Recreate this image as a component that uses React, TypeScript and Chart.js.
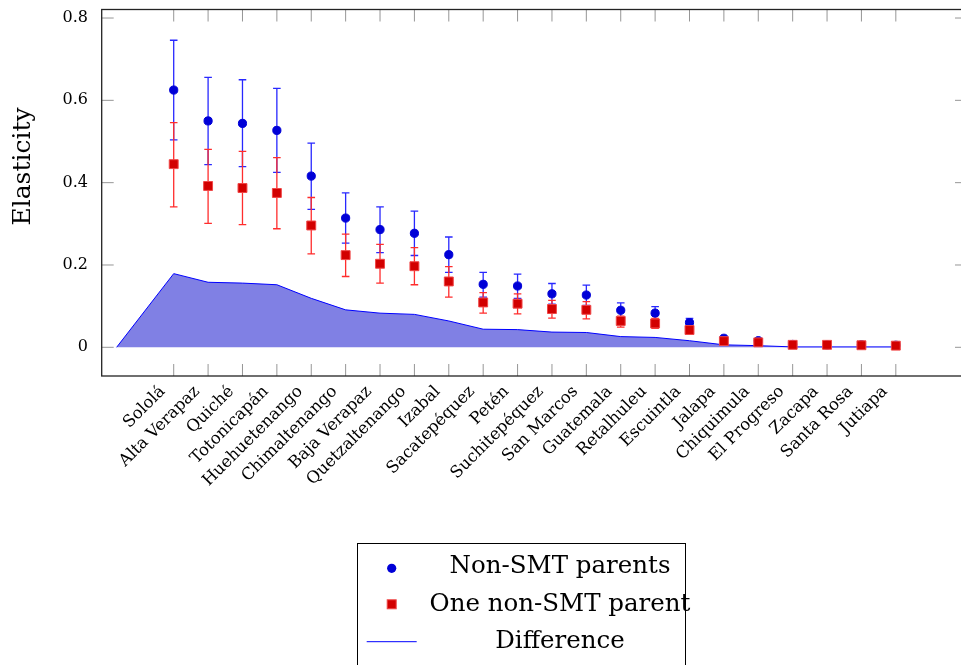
import React, { useEffect, useRef } from 'react';
import { Chart, registerables } from 'chart.js';

Chart.register(...registerables);

// ---------- data ----------
const categories = [
  'Sololá', 'Alta Verapaz', 'Quiché', 'Totonicapán', 'Huehuetenango', 'Chimaltenango',
  'Baja Verapaz', 'Quetzaltenango', 'Izabal', 'Sacatepéquez', 'Petén', 'Suchitepéquez',
  'San Marcos', 'Guatemala', 'Retalhuleu', 'Escuintla', 'Jalapa', 'Chiquimula',
  'El Progreso', 'Zacapa', 'Santa Rosa', 'Jutiapa',
];

const nonSmt = [0.625, 0.550, 0.544, 0.527, 0.416, 0.314, 0.286, 0.277, 0.225, 0.153, 0.149, 0.130, 0.127, 0.090, 0.083, 0.060, 0.022, 0.016, 0.007, 0.006, 0.006, 0.005];
const nonSmtHi = [0.746, 0.656, 0.650, 0.629, 0.496, 0.375, 0.341, 0.331, 0.268, 0.182, 0.178, 0.155, 0.151, 0.108, 0.099, 0.070, 0.026, 0.019, 0.009, 0.008, 0.008, 0.007];
const nonSmtLo = [0.504, 0.444, 0.439, 0.425, 0.335, 0.253, 0.230, 0.223, 0.182, 0.122, 0.119, 0.105, 0.102, 0.073, 0.067, 0.050, 0.018, 0.013, 0.005, 0.004, 0.004, 0.003];

const oneNonSmt = [0.445, 0.392, 0.387, 0.375, 0.296, 0.224, 0.203, 0.197, 0.160, 0.109, 0.106, 0.093, 0.091, 0.064, 0.058, 0.042, 0.015, 0.012, 0.006, 0.006, 0.005, 0.004];
const oneNonSmtHi = [0.546, 0.481, 0.476, 0.461, 0.364, 0.275, 0.250, 0.242, 0.196, 0.133, 0.130, 0.114, 0.111, 0.076, 0.070, 0.050, 0.019, 0.015, 0.008, 0.008, 0.007, 0.006];
const oneNonSmtLo = [0.341, 0.301, 0.298, 0.288, 0.227, 0.172, 0.156, 0.152, 0.122, 0.083, 0.081, 0.071, 0.069, 0.049, 0.046, 0.034, 0.011, 0.009, 0.004, 0.004, 0.003, 0.002];

const difference = [0.179, 0.158, 0.156, 0.152, 0.119, 0.091, 0.083, 0.080, 0.064, 0.044, 0.043, 0.037, 0.036, 0.026, 0.024, 0.016, 0.006, 0.004, 0.001, 0.001, 0.001, 0.001];
const differenceStart = { x: -1.66, y: 0 };

const yTickValues = [0, 0.2, 0.4, 0.6, 0.8];
const legendLabels = ['Non-SMT parents', 'One non-SMT parent', 'Difference'];
const yTitle = 'Elasticity';

// ---------- styles ----------
const FONT = '"DejaVu Serif", serif';
const BLUE_MARK = 'rgb(0,0,215)';
const BLUE_BAR = 'rgb(40,40,255)';
const RED_MARK = 'rgb(210,0,0)';
const RED_BORDER = 'rgb(240,70,70)';
const RED_BAR = 'rgb(255,45,45)';
const AREA_FILL = 'rgb(128,128,228)';
const AREA_LINE = 'rgb(0,0,255)';

const X_MIN = -2.094;
const X_MAX = 23.07;
const Y_MIN = -0.0697;
const Y_MAX = 0.8207;

function drawErrorBars(chart: any, lo: number[], hi: number[], color: string) {
  const { ctx, scales } = chart;
  const xs = scales.x;
  const ys = scales.y;
  ctx.save();
  ctx.strokeStyle = color;
  ctx.lineWidth = 1.3;
  const cap = 3.8;
  for (let i = 0; i < lo.length; i++) {
    const px = xs.getPixelForValue(i);
    const yl = ys.getPixelForValue(lo[i]);
    const yh = ys.getPixelForValue(hi[i]);
    ctx.beginPath();
    ctx.moveTo(px, yl);
    ctx.lineTo(px, yh);
    ctx.moveTo(px - cap, yl);
    ctx.lineTo(px + cap, yl);
    ctx.moveTo(px - cap, yh);
    ctx.lineTo(px + cap, yh);
    ctx.stroke();
  }
  ctx.restore();
}

const errorBarPlugin = {
  id: 'errorBars',
  beforeDatasetDraw(chart: any, args: any) {
    if (args.index === 0) drawErrorBars(chart, nonSmtLo, nonSmtHi, BLUE_BAR);
    if (args.index === 1) drawErrorBars(chart, oneNonSmtLo, oneNonSmtHi, RED_BAR);
  },
};

const framePlugin = {
  id: 'frame',
  afterDatasetsDraw(chart: any) {
    const { ctx, chartArea, scales } = chart;
    const { left, right, top, bottom } = chartArea;
    const tl = 12;
    ctx.save();
    ctx.strokeStyle = 'rgb(150,150,150)';
    ctx.lineWidth = 1;
    ctx.beginPath();
    scales.x.ticks.forEach((t: any) => {
      const px = scales.x.getPixelForValue(t.value);
      ctx.moveTo(px, bottom);
      ctx.lineTo(px, bottom - tl);
      ctx.moveTo(px, top);
      ctx.lineTo(px, top + tl);
    });
    scales.y.ticks.forEach((t: any) => {
      const py = scales.y.getPixelForValue(t.value);
      ctx.moveTo(left, py);
      ctx.lineTo(left + tl, py);
      ctx.moveTo(right, py);
      ctx.lineTo(right - tl, py);
    });
    ctx.stroke();
    ctx.strokeStyle = 'rgb(35,35,35)';
    ctx.lineWidth = 1.3;
    ctx.strokeRect(left, top, right - left, bottom - top);
    ctx.restore();
  },
};

const titlePlugin = {
  id: 'yTitle',
  afterDraw(chart: any) {
    const { ctx } = chart;
    ctx.save();
    ctx.translate(30, 166.5);
    ctx.rotate(-Math.PI / 2);
    ctx.font = `25px ${FONT}`;
    ctx.fillStyle = '#000';
    ctx.textAlign = 'center';
    ctx.textBaseline = 'alphabetic';
    ctx.fillText(yTitle, 0, 0);
    ctx.restore();
  },
};

const legendPlugin = {
  id: 'customLegend',
  afterDraw(chart: any) {
    const { ctx } = chart;
    ctx.save();
    ctx.strokeStyle = '#000';
    ctx.lineWidth = 1;
    ctx.strokeRect(357.5, 543.5, 328, 200);
    const textX = 560;
    const markX = 391.7;
    const baselines = [573.3, 610.5, 648];
    ctx.font = `24.5px ${FONT}`;
    ctx.fillStyle = '#000';
    ctx.textAlign = 'center';
    ctx.textBaseline = 'alphabetic';
    legendLabels.forEach((l, i) => ctx.fillText(l, textX, baselines[i]));
    ctx.fillStyle = BLUE_MARK;
    ctx.beginPath();
    ctx.arc(markX, 568.3, 4.6, 0, Math.PI * 2);
    ctx.fill();
    ctx.fillStyle = RED_MARK;
    ctx.fillRect(markX - 4.5, 604.3 - 4.5, 9, 9);
    ctx.strokeStyle = RED_BORDER;
    ctx.strokeRect(markX - 4.5, 604.3 - 4.5, 9, 9);
    ctx.strokeStyle = AREA_LINE;
    ctx.lineWidth = 1;
    ctx.beginPath();
    ctx.moveTo(366.7, 641.7);
    ctx.lineTo(416.7, 641.7);
    ctx.stroke();
    ctx.restore();
  },
};

export default function App() {
  const ref = useRef<HTMLCanvasElement>(null);
  useEffect(() => {
    const canvas = ref.current;
    if (!canvas) return;
    const chart = new Chart(canvas, {
      type: 'line',
      data: {
        datasets: [
          {
            label: legendLabels[0],
            data: categories.map((_, i) => ({ x: i, y: nonSmt[i] })),
            showLine: false,
            pointStyle: 'circle',
            pointRadius: 4.1,
            pointBackgroundColor: BLUE_MARK,
            pointBorderColor: BLUE_MARK,
            pointBorderWidth: 1,
            order: 2,
          },
          {
            label: legendLabels[1],
            data: categories.map((_, i) => ({ x: i, y: oneNonSmt[i] })),
            showLine: false,
            pointStyle: 'rect',
            pointRadius: 6.3,
            pointBackgroundColor: RED_MARK,
            pointBorderColor: RED_BORDER,
            pointBorderWidth: 1,
            order: 1,
          },
          {
            label: legendLabels[2],
            data: [differenceStart, ...categories.map((_, i) => ({ x: i, y: difference[i] }))],
            borderColor: AREA_LINE,
            borderWidth: 1,
            backgroundColor: AREA_FILL,
            fill: 'origin',
            pointRadius: 0,
            tension: 0,
            order: 3,
          },
        ],
      } as any,
      options: {
        responsive: false,
        animation: false,
        events: [],
        layout: { padding: { left: 0, right: 8, top: 9.5, bottom: 0 } },
        plugins: {
          legend: { display: false },
          tooltip: { enabled: false },
        },
        scales: {
          x: {
            type: 'linear',
            min: X_MIN,
            max: X_MAX,
            grid: { display: false, drawTicks: false },
            border: { display: false },
            afterBuildTicks: (ax: any) => {
              ax.ticks = categories.map((_, i) => ({ value: i }));
            },
            afterFit: (ax: any) => {
              ax.height = 289;
              ax.paddingLeft = 0;
              ax.paddingRight = 0;
              ax.paddingTop = 0;
              ax.paddingBottom = 0;
            },
            ticks: {
              autoSkip: false,
              minRotation: 45,
              maxRotation: 45,
              padding: 6,
              labelOffset: -11,
              color: '#000',
              font: { family: FONT, size: 16.5 },
              callback: (_v: any, i: number) => categories[i],
            },
          },
          y: {
            type: 'linear',
            min: Y_MIN,
            max: Y_MAX,
            grid: { display: false, drawTicks: false },
            border: { display: false },
            afterBuildTicks: (ax: any) => {
              ax.ticks = yTickValues.map((v) => ({ value: v }));
            },
            afterFit: (ax: any) => {
              ax.width = 101.7;
              ax.paddingLeft = 0;
              ax.paddingRight = 0;
              ax.paddingTop = 0;
              ax.paddingBottom = 0;
            },
            ticks: {
              padding: 13.7,
              color: '#000',
              font: { family: FONT, size: 16 },
              callback: (v: any) => String(Math.round(Number(v) * 10) / 10),
            },
          },
        },
      } as any,
      plugins: [errorBarPlugin, framePlugin, titlePlugin, legendPlugin],
    });
    return () => chart.destroy();
  }, []);
  return (
    <div
      style={{
        position: 'fixed',
        left: 0,
        top: 0,
        width: 961,
        height: 665,
        overflow: 'hidden',
        background: '#fff',
      }}
    >
      <canvas ref={ref} width={975} height={665} style={{ display: 'block', width: 975, height: 665 }} />
    </div>
  );
}
